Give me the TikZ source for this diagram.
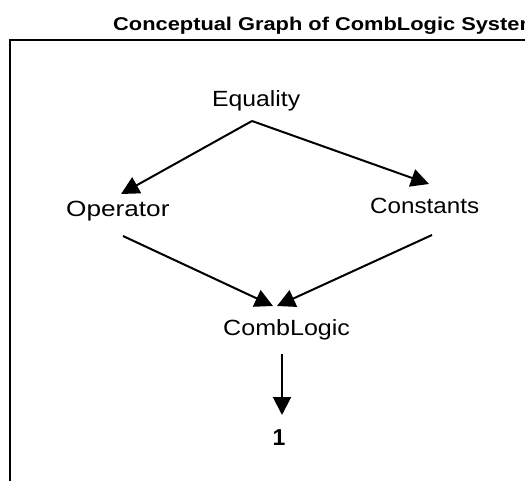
\documentclass[tikz,border=0pt]{standalone}
\usepackage{fontspec}
\usepackage{graphicx}
\setmainfont{Liberation Sans}
\usetikzlibrary{arrows.meta}
% horizontally widened text, as the sheet is set
\newcommand{\wideText}[2][1.18]{\scalebox{#1}[1]{#2}}
\tikzset{
  concept/.style={inner sep=0pt, anchor=base west, font=\fontsize{22}{25}\selectfont},
  heading/.style={inner sep=0pt, anchor=base west, font=\fontsize{18.5}{22}\selectfont\bfseries},
  result/.style={inner sep=0pt, anchor=base, font=\fontsize{23}{26}\selectfont\bfseries},
  link/.style={line width=2pt, -{Triangle[length=18pt,width=18pt]}},
  frameline/.style={line width=2.5pt}
}
\begin{document}
\begin{tikzpicture}[x=1pt,y=-1pt]
  \useasboundingbox (0,0) rectangle (525,481);
  \fill[white] (0,0) rectangle (525,481);

  % title and open frame
  \node[heading] (title) at (113,31) {\wideText{Conceptual Graph of CombLogic System}};
  \coordinate (frameBL) at (10,483);
  \coordinate (frameTL) at (10,40);
  \coordinate (frameTR) at (527,40);
  \draw[frameline] (frameBL) -- (frameTL) -- (frameTR);

  % concepts
  \node[concept] (eq) at (212,107) {\wideText[1.125]{Equality}};
  \node[concept] (op) at (66,217) {\wideText[1.19]{Operator}};
  \node[concept] (cs) at (370,214) {\wideText[1.10]{Constants}};
  \node[concept] (cl) at (223,335) {\wideText[1.14]{CombLogic}};
  \node[result] (one) at (279,445) {1};

  % connector ends
  \coordinate (eqFoot) at (252,121);
  \coordinate (opHead) at (121,194);
  \coordinate (csHead) at (429,184);
  \coordinate (opFoot) at (123,236);
  \coordinate (csFoot) at (432,235);
  \coordinate (clHeadL) at (273,306);
  \coordinate (clHeadR) at (277,306);
  \coordinate (clFoot) at (282,354);
  \coordinate (oneHead) at (282,415);

  % relations
  \draw[link] (eqFoot) -- (opHead);
  \draw[link] (eqFoot) -- (csHead);
  \draw[link] (opFoot) -- (clHeadL);
  \draw[link] (csFoot) -- (clHeadR);
  \draw[link] (clFoot) -- (oneHead);
\end{tikzpicture}
\end{document}
